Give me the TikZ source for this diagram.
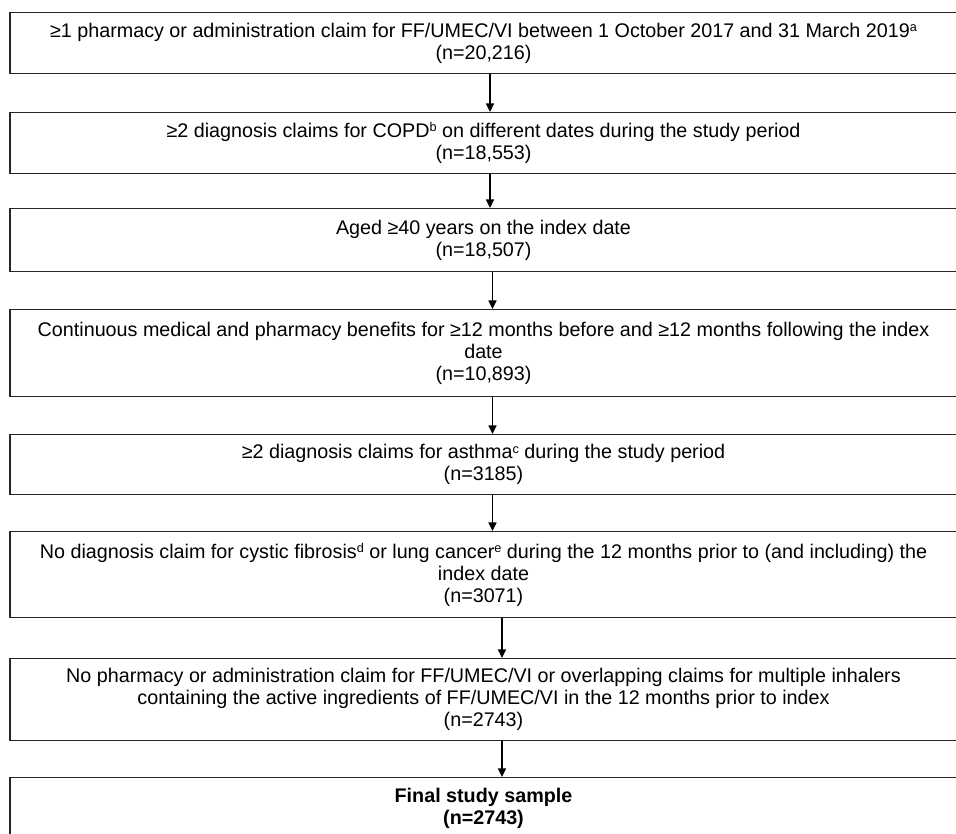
\documentclass[tikz,border=0pt]{standalone}
\usepackage{fontspec}
\setmainfont{Liberation Sans}
\usetikzlibrary{arrows.meta}
\newcommand\supx[1]{\raisebox{0.55ex}{\fontsize{9.5}{9.5}\selectfont #1}}
\tikzset{
  box/.style={draw=black!85, line width=1pt, minimum width=710.25pt, inner sep=0pt, align=center,
    font=\fontsize{14.8}{16.5}\selectfont, anchor=north},
  arr/.style={draw=black, line width=1.1pt, -{Triangle[width=6pt,length=6.5pt]}}
}
\begin{document}
\begin{tikzpicture}[x=0.75pt,y=-0.75pt]
\useasboundingbox (0,0) rectangle (956,833);
\clip (0,0) rectangle (956,833);
\node[box, minimum height=45.75pt] (b1) at (483.5,12) {≥1 pharmacy or administration claim for FF/UMEC/VI between 1 October 2017 and 31 March 2019\supx{a}\\(n=20,216)};
\node[box, minimum height=45.75pt] (b2) at (483.5,112) {≥2 diagnosis claims for COPD\supx{b} on different dates during the study period\\(n=18,553)};
\node[box, minimum height=47.25pt] (b3) at (483.5,208) {Aged ≥40 years on the index date\\(n=18,507)};
\node[box, minimum height=65.25pt] (b4) at (483.5,309) {Continuous medical and pharmacy benefits for ≥12 months before and ≥12 months following the index\\date\\(n=10,893)};
\node[box, minimum height=45pt] (b5) at (483.5,434) {≥2 diagnosis claims for asthma\supx{c} during the study period\\(n=3185)};
\node[box, minimum height=64.5pt] (b6) at (483.5,531) {No diagnosis claim for cystic fibrosis\supx{d} or lung cancer\supx{e} during the 12 months prior to (and including) the\\index date\\(n=3071)};
\node[box, minimum height=61.5pt] (b7) at (483.5,658) {No pharmacy or administration claim for FF/UMEC/VI or overlapping claims for multiple inhalers\\containing the active ingredients of FF/UMEC/VI in the 12 months prior to index\\(n=2743)};
\node[box, minimum height=45.75pt] (b8) at (483.5,777) {\textbf{Final study sample}\\\textbf{(n=2743)}};
\coordinate (xa) at (490,0);
\coordinate (xb) at (492.5,0);
\coordinate (xc) at (502,0);
\draw[arr] (b1.south -| xa) -- (b2.north -| xa);
\draw[arr] (b2.south -| xa) -- (b3.north -| xa);
\draw[arr] (b3.south -| xb) -- (b4.north -| xb);
\draw[arr] (b4.south -| xb) -- (b5.north -| xb);
\draw[arr] (b5.south -| xb) -- (b6.north -| xb);
\draw[arr] (b6.south -| xc) -- (b7.north -| xc);
\draw[arr] (b7.south -| xc) -- (b8.north -| xc);
\end{tikzpicture}
\end{document}
